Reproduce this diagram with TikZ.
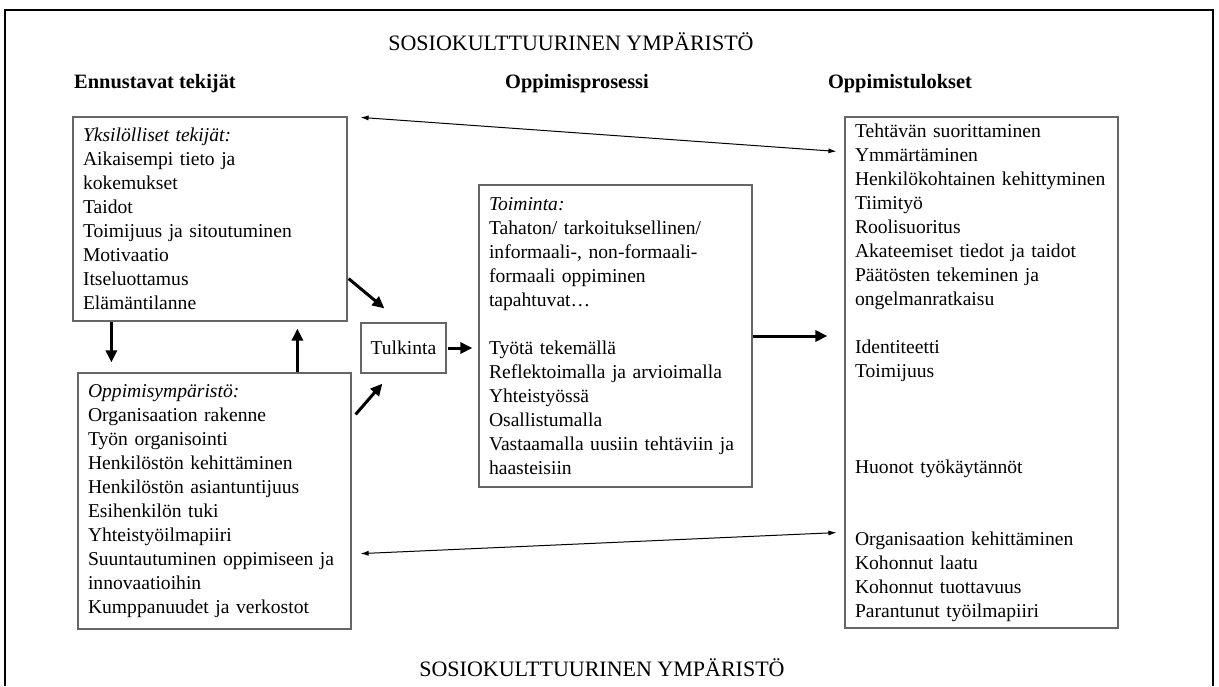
\documentclass[tikz,border=0pt]{standalone}
\usepackage{fontspec}
\setmainfont{Liberation Serif}
\usetikzlibrary{arrows.meta,positioning,calc}

\begin{document}
\begin{tikzpicture}[x=0.5pt,y=-0.5pt,
  box/.style={draw=black!60,line width=0.6pt,align=left,inner xsep=5pt,inner ysep=0pt,
    font=\fontsize{9.8}{12}\selectfont},
  colhead/.style={font=\fontsize{10.2}{12}\selectfont\bfseries},
  envtitle/.style={font=\fontsize{11}{12}\selectfont},
  pairarrow/.style={{Latex[length=4pt,width=2.6pt]}-{Latex[length=4pt,width=2.6pt]},line width=0.5pt},
  flowarrow/.style={-{Triangle[length=6pt,width=5.5pt]},line width=1.5pt}]
\useasboundingbox (0,0) rectangle (1219,686);
% outer frame, open at the bottom
\draw [line width=1pt] (5,686) -- (5,10) -- (1213,10) -- (1213,686);

\node [envtitle] (envtop) at (571,42) {SOSIOKULTTUURINEN YMPÄRISTÖ};
\node [envtitle] (envbot) at (602,668) {SOSIOKULTTUURINEN YMPÄRISTÖ};
\node [colhead] (hpred) at (155,84) {Ennustavat tekijät};
\node [colhead] (hproc) at (577,84) {Oppimisprosessi};
\node [colhead] (hout) at (900,84) {Oppimistulokset};

\node [box,text width=127pt,minimum height=102pt] (yks) at (210,219)
  {\textit{Yksilölliset tekijät:}\\Aikaisempi tieto ja\\kokemukset\\Taidot\\Toimijuus ja sitoutuminen\\Motivaatio\\Itseluottamus\\Elämäntilanne};
\node [box,text width=126.5pt,minimum height=128pt] (ymp) at (214.5,501)
  {\textit{Oppimisympäristö:}\\Organisaation rakenne\\Työn organisointi\\Henkilöstön kehittäminen\\Henkilöstön asiantuntijuus\\Esihenkilön tuki\\Yhteistyöilmapiiri\\Suuntautuminen oppimiseen ja\\innovaatioihin\\Kumppanuudet ja verkostot};
\node [box,align=center,inner xsep=0pt,minimum width=42.5pt,minimum height=25pt] (tulk) at (403.5,348) {Tulkinta};
\node [box,text width=126.5pt,minimum height=151pt] (toim) at (615.5,336)
  {\textit{Toiminta:}\\Tahaton/ tarkoituksellinen/\\informaali-, non-formaali-\\formaali oppiminen\\tapahtuvat…\\[12pt]Työtä tekemällä\\Reflektoimalla ja arvioimalla\\Yhteistyössä\\Osallistumalla\\Vastaamalla uusiin tehtäviin ja\\haasteisiin};
\node [box,text width=126.5pt,minimum height=255.5pt] (tulos) at (981.5,372.5)
  {Tehtävän suorittaminen\\Ymmärtäminen\\Henkilökohtainen kehittyminen\\Tiimityö\\Roolisuoritus\\Akateemiset tiedot ja taidot\\Päätösten tekeminen ja\\ongelmanratkaisu\\[12pt]Identiteetti\\Toimijuus\\[36pt]Huonot työkäytännöt\\[24pt]Organisaation kehittäminen\\Kohonnut laatu\\Kohonnut tuottavuus\\Parantunut työilmapiiri};

% connectors
\draw [pairarrow] ($(yks.north east)+(13,1)$) -- ($(tulos.north west)+(-8,35)$);
\draw [pairarrow] ($(ymp.south east)+(9,-76)$) -- ($(tulos.south west)+(-8,-96)$);
\draw [flowarrow] ($(yks.south east)+(1,-43)$) -- ($(tulk.north west)+(24,-14)$);
\draw [flowarrow] ($(ymp.north east)+(4,42)$) -- ($(tulk.south west)+(22,10)$);
\draw [flowarrow] ([xshift=0.5pt]tulk.east) -- ([xshift=-3pt]tulk.east -| toim.west);
\draw [flowarrow] (toim.east) -- ([xshift=-8.5pt]toim.east -| tulos.west);
\draw [flowarrow] ($(yks.south west)+(39,0)$) -- ($(ymp.north west)+(34,-10)$);
\draw [flowarrow] ($(ymp.north west)+(220,0)$) -- ($(yks.south west)+(225,7)$);
\end{tikzpicture}
\end{document}
